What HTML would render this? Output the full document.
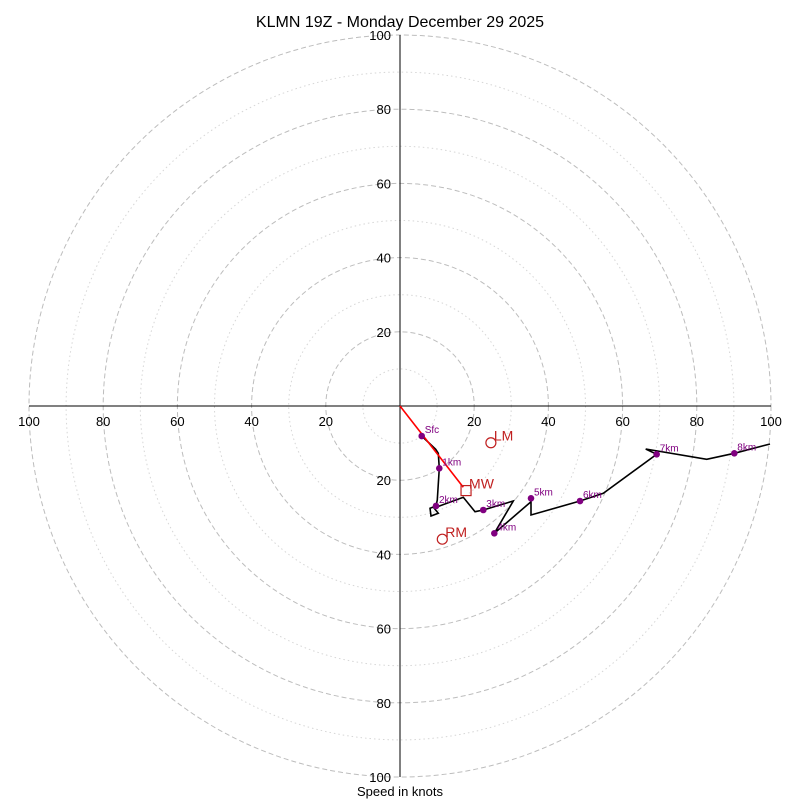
<!DOCTYPE html>
<html><head><meta charset="utf-8"><style>
body{margin:0;background:#fff;width:800px;height:800px;overflow:hidden}
svg{display:block;font-family:"Liberation Sans","DejaVu Sans",sans-serif}
</style></head><body>
<svg id="chart" width="800" height="800" viewBox="0 0 800 800">
<text x="400" y="27" text-anchor="middle" font-size="16">KLMN 19Z - Monday December 29 2025</text>
<text x="400" y="796" text-anchor="middle" font-size="13">Speed in knots</text>
<g id="grid"></g><g id="axes"></g><g id="plot"></g>
</svg>
<script>
const ringValues=[10,20,30,40,50,60,70,80,90,100];
const tickLabels=[20,40,60,80,100];
const windU=[5.85,9.62,10.32,10.59,10.05,9.70,8.09,8.36,10.32,9.16,17.06,20.22,22.45,30.54,25.42,35.31,35.31,35.31,48.52,54.80,69.19,66.23,82.67,90.11,99.73];
const windV=[-8.09,-11.67,-12.75,-16.79,-25.34,-26.95,-27.57,-29.65,-28.92,-27.49,-24.61,-28.49,-28.03,-25.61,-34.31,-25.80,-29.38,-29.38,-25.61,-23.53,-13.02,-11.59,-14.37,-12.75,-10.24];
const markerNames=["Sfc","1km","2km","3km","4km","5km","6km","7km","8km"];
const markerU=[5.85,10.59,9.70,22.45,25.42,35.31,48.52,69.19,90.11];
const markerV=[-8.09,-16.79,-26.95,-28.03,-34.31,-24.88,-25.61,-13.02,-12.75];
const motionNames=["LM","MW","RM"];
const motionU=[24.5,17.8,11.4];
const motionV=[-9.9,-22.8,-35.9];
const meanWindU=[0,17.06];
const meanWindV=[0,-21.9];

const cx=400,cy=406,R=371,maxV=100;
const sx=u=>cx+u*R/maxV, sy=v=>cy-v*R/maxV, sr=r=>r*R/maxV;
const NS="http://www.w3.org/2000/svg";
function mk(tag,parent,attrs){const e=document.createElementNS(NS,tag);for(const k in attrs)e.setAttribute(k,attrs[k]);parent.appendChild(e);return e;}
const grid=document.getElementById('grid'),axes=document.getElementById('axes'),plot=document.getElementById('plot');
ringValues.forEach(r=>{
  const c=mk('circle',grid,{cx:cx,cy:cy,r:sr(r),fill:'none',stroke:r%20===0?'#bdbdbd':'#d6d6d6','stroke-width':1,'stroke-dasharray':r%20===0?'5,3':'1.5,3'});
  
  
});
let l=mk('line',axes,{x1:sx(-100),y1:cy,x2:sx(100),y2:cy,stroke:'#000','stroke-width':1});


l=mk('line',axes,{x1:cx,y1:sy(100),x2:cx,y2:sy(-100),stroke:'#000','stroke-width':1});


tickLabels.forEach(t=>{
  [-1,1].forEach(s=>{
    let tx=mk('text',axes,{x:sx(s*t),y:cy+20,'text-anchor':'middle','font-size':13});
    tx.textContent=t;
    
    
    let ty=mk('text',axes,{x:cx-9,y:sy(s*t)+5,'text-anchor':'end','font-size':13,fill:'#000'});
    ty.textContent=t;
    
    
  });
});
let hodo=mk('polyline',plot,{points:windU.map((u,i)=>sx(u)+','+sy(windV[i])).join(' '),fill:'none',stroke:'#000','stroke-width':1.6});


let mw=mk('polyline',plot,{points:meanWindU.map((u,i)=>sx(u)+','+sy(meanWindV[i])).join(' '),fill:'none',stroke:'red','stroke-width':1.6});


markerNames.forEach((n,i)=>{
  const x=sx(markerU[i]),y=sy(markerV[i]);
  let d=mk('circle',plot,{cx:x,cy:y,r:3.3,fill:'purple'});
  
  
  let t=mk('text',plot,{x:x+3,y:y-3,'font-size':10,fill:'purple'});
  t.textContent=n;
  
  
});
motionNames.forEach((n,i)=>{
  const x=sx(motionU[i]),y=sy(motionV[i]);
  let m;
  if(n==='MW') m=mk('rect',plot,{x:x-5,y:y-5,width:10,height:10,fill:'none',stroke:'#c02020','stroke-width':1.2});
  else m=mk('circle',plot,{cx:x,cy:y,r:5,fill:'none',stroke:'#c02020','stroke-width':1.2});
  
  
  let t=mk('text',plot,{x:x+3,y:y-2,'font-size':14,fill:'#c02020'});
  t.textContent=n;
  
  
});
</script>
</body></html>
